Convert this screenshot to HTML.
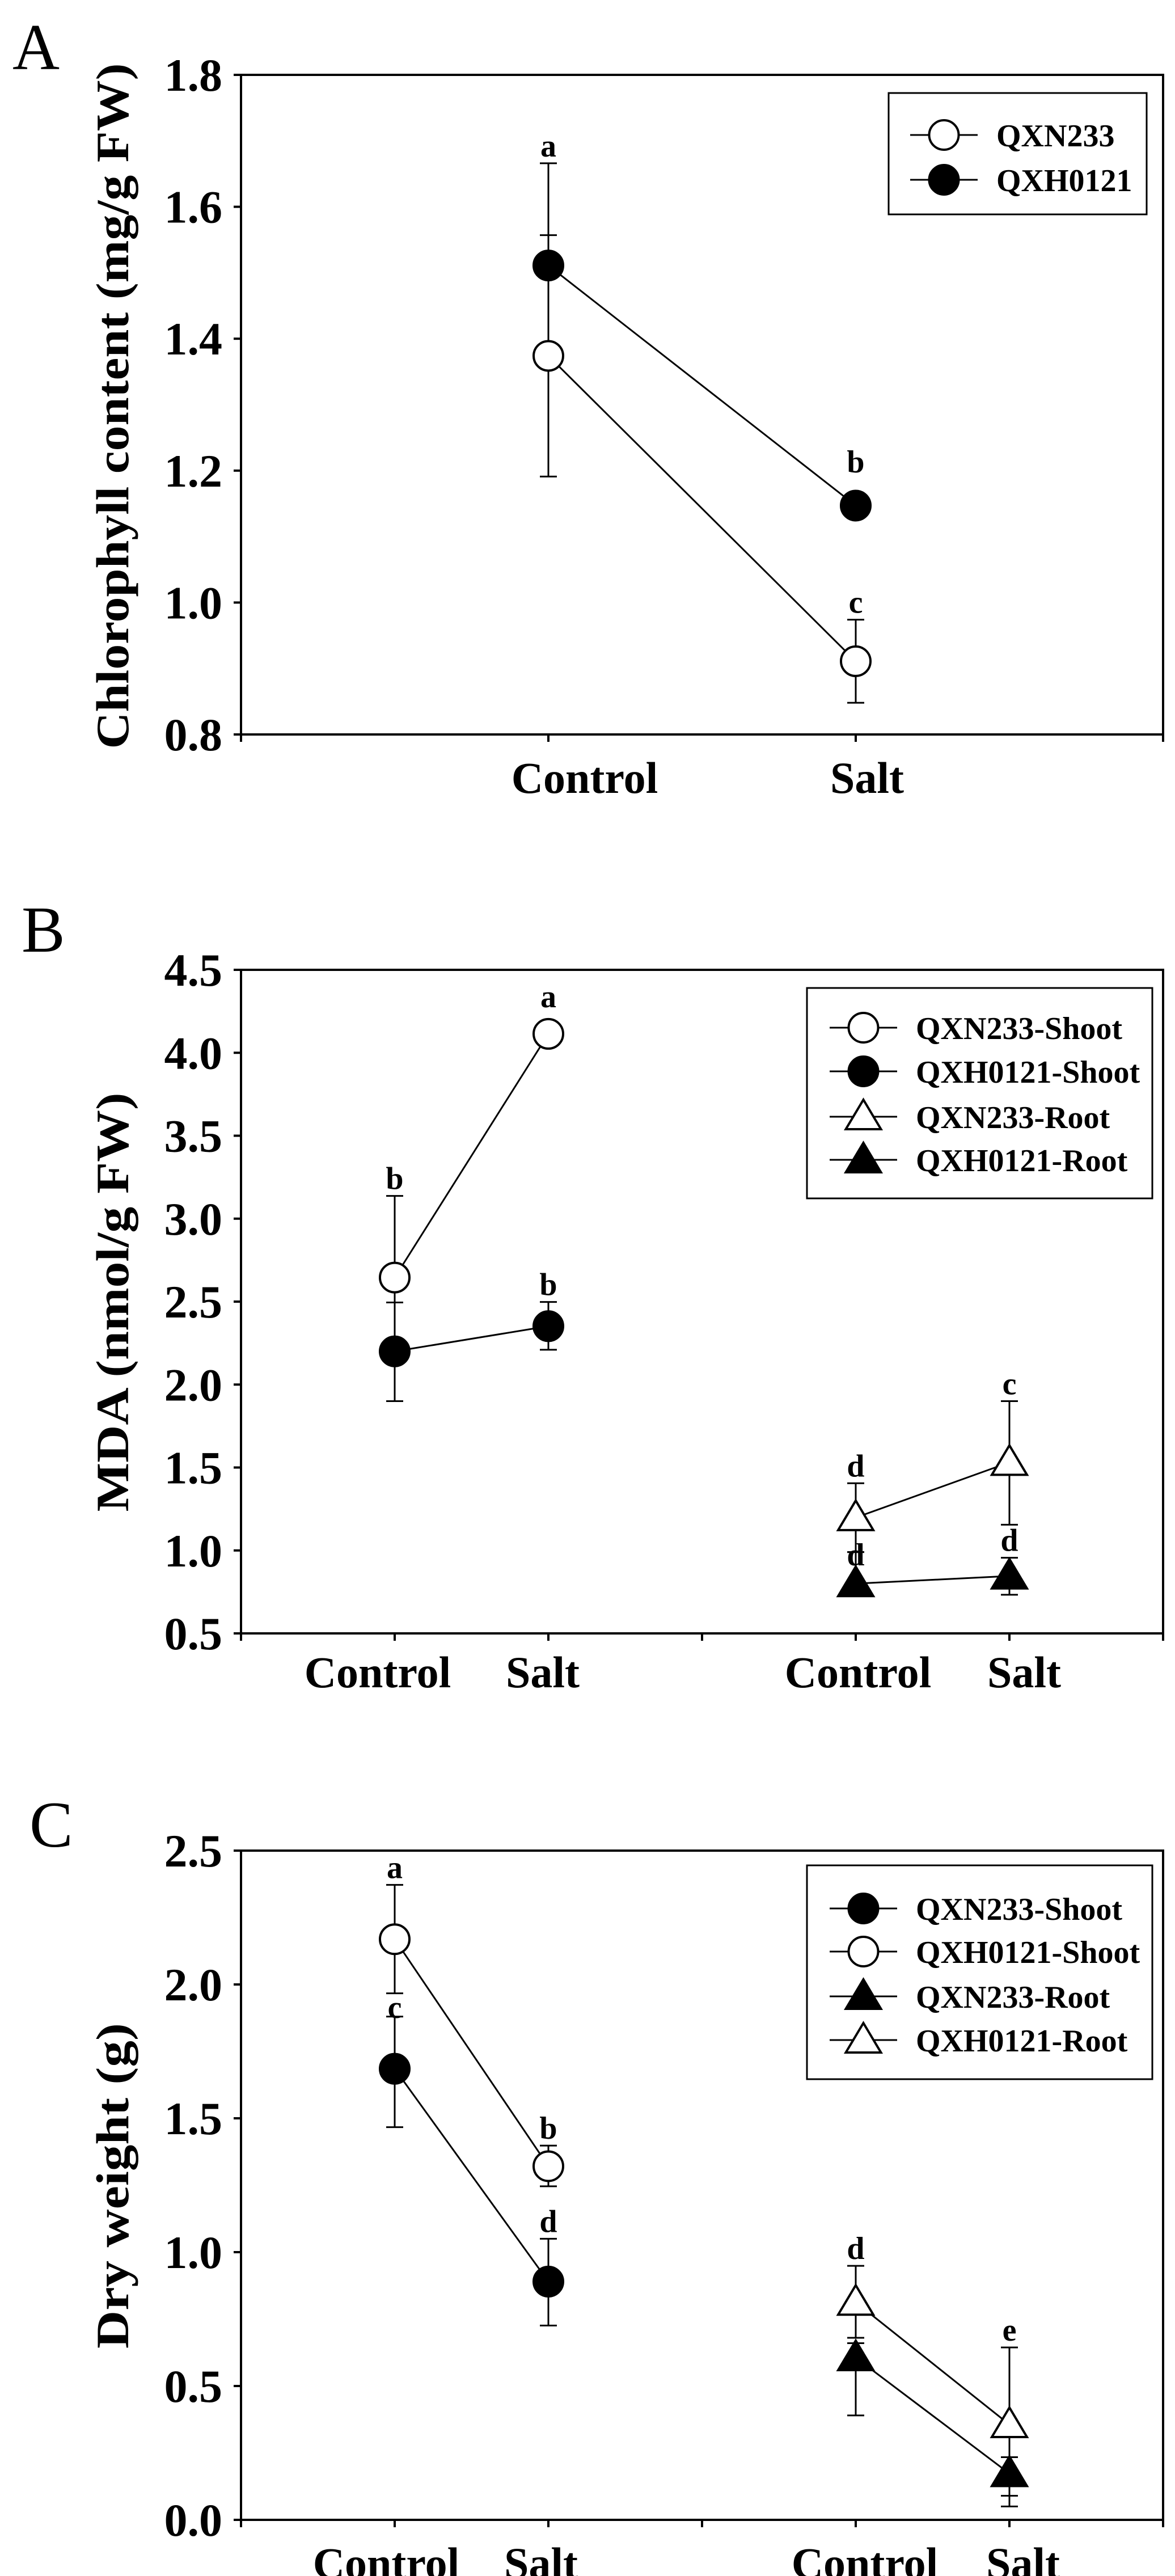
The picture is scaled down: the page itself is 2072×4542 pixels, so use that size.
<!DOCTYPE html>
<html><head><meta charset="utf-8"><style>
html,body{margin:0;padding:0;background:#fff;}
svg{display:block;}
text{font-family:"Liberation Serif",serif;fill:#000;}
</style></head><body>
<svg id="fig" width="2072" height="4542" viewBox="0 0 2072 4542" xmlns="http://www.w3.org/2000/svg"></svg>
<script>
// ---------- Panel A data ----------
const A_categories = ["Control", "Salt"];
const A_yTicks = ["0.8","1.0","1.2","1.4","1.6","1.8"];
const A_QXN233 = [1.374, 0.911];
const A_QXN233_hi = [1.557, 0.974];
const A_QXN233_lo = [1.191, 0.848];
const A_QXH0121 = [1.511, 1.147];
const A_QXH0121_hi = [1.666, 1.147];
const A_QXH0121_lo = [1.356, 1.147];
const A_letters = ["a", "b", "c"];

// ---------- Panel B data ----------
const B_categories = ["Control", "Salt", "Control", "Salt"];
const B_yTicks = ["0.5","1.0","1.5","2.0","2.5","3.0","3.5","4.0","4.5"];
const B_N233Shoot = [2.645, 4.114];
const B_N233Shoot_hi = [3.137, 4.114];
const B_N233Shoot_lo = [2.153, 4.114];
const B_H0121Shoot = [2.20, 2.352];
const B_H0121Shoot_hi = [2.495, 2.498];
const B_H0121Shoot_lo = [1.90, 2.21];
const B_N233Root = [1.198, 1.531];
const B_N233Root_hi = [1.405, 1.90];
const B_N233Root_lo = [0.99, 1.155];
const B_H0121Root = [0.80, 0.846];
const B_H0121Root_hi = [0.99, 0.956];
const B_H0121Root_lo = [0.75, 0.733];
const B_letters = ["b", "a", "b", "d", "c", "d", "d"];

// ---------- Panel C data ----------
const C_categories = ["Control", "Salt", "Control", "Salt"];
const C_yTicks = ["0.0","0.5","1.0","1.5","2.0","2.5"];
const C_N233Shoot = [1.685, 0.89];
const C_N233Shoot_hi = [1.88, 1.05];
const C_N233Shoot_lo = [1.467, 0.726];
const C_H0121Shoot = [2.169, 1.321];
const C_H0121Shoot_hi = [2.372, 1.398];
const C_H0121Shoot_lo = [1.967, 1.246];
const C_N233Root = [0.606, 0.173];
const C_N233Root_hi = [0.66, 0.234];
const C_N233Root_lo = [0.39, 0.09];
const C_H0121Root = [0.813, 0.356];
const C_H0121Root_hi = [0.949, 0.644];
const C_H0121Root_lo = [0.68, 0.05];
const C_letters = ["a", "b", "c", "d", "d", "e"];

const NS = "http://www.w3.org/2000/svg";
const svg = document.getElementById("fig");
function mk(tag, attrs, parent) {
  const e = document.createElementNS(NS, tag);
  for (const k in attrs) e.setAttribute(k, attrs[k]);
  (parent || svg).appendChild(e);
  return e;
}

function drawPanel(P) {
  const g = mk("g", {});
  
  
  const L = 425, R = 2051;
  const xs = i => L + (R - L) * i / P.xDomain;
  const ys = v => P.bottom - (v - P.yMin) / (P.yMax - P.yMin) * (P.bottom - P.top);

  const pl = mk("text", {x: P.labelX, y: P.labelY, "font-size": 115}, g);
  pl.textContent = P.letter;
  
  

  const fr = mk("rect", {x: L, y: P.top, width: R - L, height: P.bottom - P.top, fill: "none", stroke: "#000", "stroke-width": 4}, g);
  
  

  P.yTicks.forEach(t => {
    const v = parseFloat(t), y = ys(v);
    const tk = mk("line", {x1: L - 13, x2: L, y1: y, y2: y, stroke: "#000", "stroke-width": 4}, g);
    
    
    const tl = mk("text", {x: 392, y: y + 28, "font-size": 82, "font-weight": "bold", "text-anchor": "end"}, g);
    tl.textContent = t;
    
    
  });
  for (let i = 0; i <= P.xDomain; i++) {
    const tk = mk("line", {x1: xs(i), x2: xs(i), y1: P.bottom, y2: P.bottom + 13, stroke: "#000", "stroke-width": 4}, g);
    
    
  }
  P.categories.forEach((c, i) => {
    const xl = mk("text", {x: xs(P.catPos[i]) + P.catShift[i], y: P.xLabelY, "font-size": 78, "font-weight": "bold", "text-anchor": "middle"}, g);
    xl.textContent = c;
    
    
  });
  const yt = mk("text", {x: 0, y: 0, "font-size": 82, "font-weight": "bold", "text-anchor": "middle",
    transform: "translate(226," + P.titleY + ") rotate(-90)", textLength: P.titleLen, lengthAdjust: "spacingAndGlyphs"}, g);
  yt.textContent = P.title;
  
  

  function marker(x, y, s, parent) {
    if (s.marker === "circle") {
      return mk("circle", {cx: x, cy: y, r: 26, fill: s.fill, stroke: "#000", "stroke-width": 4}, parent);
    }
    return mk("polygon", {points: (x) + "," + (y - 30) + " " + (x - 31) + "," + (y + 22) + " " + (x + 31) + "," + (y + 22),
      fill: s.fill, stroke: "#000", "stroke-width": 4, "stroke-linejoin": "miter"}, parent);
  }

  P.series.forEach(s => {
    const sg = mk("g", {}, g);
    
    
    const pts = s.vals.map((v, i) => [xs(s.pos[i]), ys(v)]);
    const ln = mk("polyline", {points: pts.map(p => p.join(",")).join(" "), fill: "none", stroke: "#000", "stroke-width": 3}, sg);
    
    
    s.vals.forEach((v, i) => {
      const x = xs(s.pos[i]);
      const hi = ys(s.hi[i]), lo = ys(s.lo[i]);
      if (Math.abs(hi - lo) > 1) {
        const eb = mk("path", {d: "M" + x + "," + hi + "V" + lo + "M" + (x - 15) + "," + hi + "H" + (x + 15) + "M" + (x - 15) + "," + lo + "H" + (x + 15),
          stroke: "#000", "stroke-width": 3, fill: "none"}, sg);
        
        
      }
    });
  });
  P.series.forEach(s => {
    s.vals.forEach((v, i) => {
      const m = marker(xs(s.pos[i]), ys(v), s, g);
      
      
    });
  });
  P.letterSpec.forEach((ls, i) => {
    const lt = mk("text", {x: xs(ls.pos), y: ys(ls.v) - 12, "font-size": 56, "font-weight": "bold", "text-anchor": "middle"}, g);
    lt.textContent = P.letters[i];
    
    
  });

  const lg = mk("g", {}, g);
  
  
  const lb = mk("rect", {x: P.legend.x, y: P.legend.y, width: P.legend.w, height: P.legend.h, fill: "#fff", stroke: "#000", "stroke-width": 3}, lg);
  
  
  P.series.slice().sort((a, b) => a.legendOrder - b.legendOrder).forEach((s, i) => {
    const y = P.legend.rows[i];
    const eg = mk("g", {}, lg);
    
    
    mk("line", {x1: P.legend.lx1, x2: P.legend.lx2, y1: y, y2: y, stroke: "#000", "stroke-width": 3}, eg);
    marker((P.legend.lx1 + P.legend.lx2) / 2, y, s, eg);
    const t = mk("text", {x: P.legend.tx, y: y + 20, "font-size": P.legend.fs, "font-weight": "bold"}, eg);
    t.textContent = s.label;
  });
}

drawPanel({
  id: "panel-a", letter: "A", labelX: 22, labelY: 122,
  top: 132, bottom: 1295, yMin: 0.8, yMax: 1.8, xDomain: 3,
  yTicks: A_yTicks, categories: A_categories, catPos: [1, 2], catShift: [64, 20], xLabelY: 1398,
  title: "Chlorophyll content (mg/g FW)", titleY: 716, titleLen: 1209,
  series: [
    {key: "qxn233", label: "QXN233", marker: "circle", fill: "#fff", pos: [1, 2], vals: A_QXN233, hi: A_QXN233_hi, lo: A_QXN233_lo, legendOrder: 0},
    {key: "qxh0121", label: "QXH0121", marker: "circle", fill: "#000", pos: [1, 2], vals: A_QXH0121, hi: A_QXH0121_hi, lo: A_QXH0121_lo, legendOrder: 1}
  ],
  letters: A_letters,
  letterSpec: [{pos: 1, v: A_QXH0121_hi[0]}, {pos: 2, v: A_QXH0121[1] + 0.04}, {pos: 2, v: A_QXN233_hi[1]}],
  legend: {x: 1567, y: 164, w: 455, h: 214, rows: [238, 317], lx1: 1605, lx2: 1724, tx: 1757, fs: 56}
});

drawPanel({
  id: "panel-b", letter: "B", labelX: 38, labelY: 1678,
  top: 1710, bottom: 2880, yMin: 0.5, yMax: 4.5, xDomain: 6,
  yTicks: B_yTicks, categories: B_categories, catPos: [1, 2, 4, 5], catShift: [-30, -10, 4, 26], xLabelY: 2975,
  title: "MDA (nmol/g FW)", titleY: 2296, titleLen: 739,
  series: [
    {key: "qxn233-shoot", label: "QXN233-Shoot", marker: "circle", fill: "#fff", pos: [1, 2], vals: B_N233Shoot, hi: B_N233Shoot_hi, lo: B_N233Shoot_lo, legendOrder: 0},
    {key: "qxh0121-shoot", label: "QXH0121-Shoot", marker: "circle", fill: "#000", pos: [1, 2], vals: B_H0121Shoot, hi: B_H0121Shoot_hi, lo: B_H0121Shoot_lo, legendOrder: 1},
    {key: "qxn233-root", label: "QXN233-Root", marker: "tri", fill: "#fff", pos: [4, 5], vals: B_N233Root, hi: B_N233Root_hi, lo: B_N233Root_lo, legendOrder: 2},
    {key: "qxh0121-root", label: "QXH0121-Root", marker: "tri", fill: "#000", pos: [4, 5], vals: B_H0121Root, hi: B_H0121Root_hi, lo: B_H0121Root_lo, legendOrder: 3}
  ],
  letters: B_letters,
  letterSpec: [{pos: 1, v: B_N233Shoot_hi[0]}, {pos: 2, v: B_N233Shoot[1] + 0.12}, {pos: 2, v: B_H0121Shoot_hi[1]},
    {pos: 4, v: B_N233Root_hi[0]}, {pos: 5, v: B_N233Root_hi[1]}, {pos: 4, v: B_H0121Root_hi[0] - 0.12}, {pos: 5, v: B_H0121Root_hi[1]}],
  legend: {x: 1423, y: 1742, w: 609, h: 371, rows: [1812, 1889, 1969, 2045], lx1: 1463, lx2: 1582, tx: 1615, fs: 56}
});

drawPanel({
  id: "panel-c", letter: "C", labelX: 52, labelY: 3256,
  top: 3263, bottom: 4443, yMin: 0.0, yMax: 2.5, xDomain: 6,
  yTicks: C_yTicks, categories: C_categories, catPos: [1, 2, 4, 5], catShift: [-15, -13, 16, 24], xLabelY: 4546,
  title: "Dry weight (g)", titleY: 3854, titleLen: 574,
  series: [
    {key: "qxn233-shoot", label: "QXN233-Shoot", marker: "circle", fill: "#000", pos: [1, 2], vals: C_N233Shoot, hi: C_N233Shoot_hi, lo: C_N233Shoot_lo, legendOrder: 0},
    {key: "qxh0121-shoot", label: "QXH0121-Shoot", marker: "circle", fill: "#fff", pos: [1, 2], vals: C_H0121Shoot, hi: C_H0121Shoot_hi, lo: C_H0121Shoot_lo, legendOrder: 1},
    {key: "qxn233-root", label: "QXN233-Root", marker: "tri", fill: "#000", pos: [4, 5], vals: C_N233Root, hi: C_N233Root_hi, lo: C_N233Root_lo, legendOrder: 2},
    {key: "qxh0121-root", label: "QXH0121-Root", marker: "tri", fill: "#fff", pos: [4, 5], vals: C_H0121Root, hi: C_H0121Root_hi, lo: C_H0121Root_lo, legendOrder: 3}
  ],
  letters: C_letters,
  letterSpec: [{pos: 1, v: C_H0121Shoot_hi[0]}, {pos: 2, v: C_H0121Shoot_hi[1]}, {pos: 1, v: C_N233Shoot_hi[0] - 0.03},
    {pos: 2, v: C_N233Shoot_hi[1]}, {pos: 4, v: C_H0121Root_hi[0]}, {pos: 5, v: C_H0121Root_hi[1]}],
  legend: {x: 1423, y: 3289, w: 609, h: 377, rows: [3365, 3441, 3520, 3597], lx1: 1463, lx2: 1582, tx: 1615, fs: 56}
});
</script>
</body></html>
